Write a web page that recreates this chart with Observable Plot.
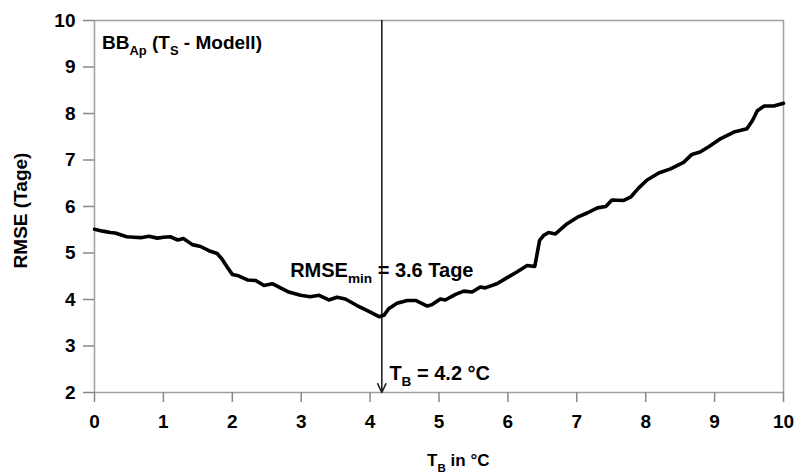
<!DOCTYPE html>
<html>
<head>
<meta charset="utf-8">
<script src="https://cdn.jsdelivr.net/npm/d3@7"></script>
<script src="https://cdn.jsdelivr.net/npm/@observablehq/plot@0.6"></script>
<style>
  html, body { margin: 0; padding: 0; background: #fff; }
  svg { font-family: "Liberation Sans", Arial, sans-serif; font-weight: bold; }
</style>
</head>
<body>
<div id="chart"></div>
<script>
// Base temperature T_B (°C)
const tb = [0.00,0.12,0.23,0.30,0.40,0.47,0.57,0.67,0.79,0.91,1.00,1.10,1.21,1.29,1.42,1.54,1.66,1.78,1.85,1.93,
  2.00,2.09,2.22,2.34,2.46,2.58,2.70,2.82,2.99,3.13,3.26,3.40,3.52,3.64,3.81,3.96,4.13,4.20,4.27,4.39,
  4.54,4.66,4.83,4.90,5.02,5.09,5.24,5.36,5.48,5.60,5.67,5.84,5.99,6.13,6.28,6.39,6.46,6.52,6.59,6.69,
  6.86,7.01,7.15,7.30,7.42,7.51,7.68,7.78,7.90,8.02,8.19,8.36,8.55,8.67,8.79,8.92,9.09,9.28,9.47,9.55,
  9.62,9.72,9.86,10.00];
// RMSE (Tage)
const rmse = [5.51,5.47,5.44,5.43,5.38,5.35,5.34,5.33,5.36,5.32,5.34,5.35,5.28,5.31,5.18,5.14,5.05,4.99,4.87,4.69,
  4.54,4.51,4.42,4.41,4.30,4.34,4.25,4.16,4.09,4.06,4.09,3.99,4.05,4.01,3.87,3.76,3.63,3.66,3.80,3.92,
  3.98,3.98,3.86,3.89,4.01,3.99,4.11,4.18,4.16,4.27,4.25,4.34,4.47,4.59,4.73,4.71,5.27,5.38,5.44,5.41,
  5.63,5.77,5.86,5.97,6.00,6.14,6.13,6.20,6.40,6.57,6.72,6.81,6.95,7.12,7.17,7.29,7.46,7.60,7.67,7.85,
  8.06,8.16,8.16,8.22];

const xTicks = [0,1,2,3,4,5,6,7,8,9,10];
const yTicks = [2,3,4,5,6,7,8,9,10];

// Optimum marker
const tbOpt = 4.17;

// Annotations
const annText = ["BB_{Ap} (T_{S} - Modell)", "RMSE_{min} = 3.6 Tage", "T_{B} = 4.2 °C"];
const annX = [0.11, 2.84, 4.28];
const annY = [9.51, 4.62, 2.41];
const annSize = [19, 20, 20];

const xTitle = "T_{B} in °C";
const yTitle = "RMSE (Tage)";

const data = tb.map((t, i) => ({t, r: rmse[i]}));
const ann = annText.map((s, i) => ({s, x: annX[i], y: annY[i], size: annSize[i]}));

const plot = Plot.plot({
  width: 803,
  height: 474,
  marginLeft: 94,
  marginRight: 20,
  marginTop: 20,
  marginBottom: 82,
  style: { fontFamily: "'Liberation Sans', Arial, sans-serif", fontWeight: "bold", fontSize: "18px", color: "#000", background: "#fff" },
  x: { domain: [0, 10] },
  y: { domain: [2, 10] },
  marks: [
    Plot.frame({ stroke: "#a0a0a0", strokeWidth: 1.5 }),
    Plot.axisX({ ticks: xTicks, tickSize: 10, tickPadding: 12, label: null, stroke: "#888", strokeWidth: 1.5, fill: "#000", fontSize: 19 }),
    Plot.axisY({ ticks: yTicks, tickSize: 11, tickPadding: 8, label: null, stroke: "#888", strokeWidth: 1.5, fill: "#000", fontSize: 19 }),
    Plot.arrow([{x: tbOpt}], { x1: "x", x2: "x", y1: () => 10, y2: () => 2, stroke: "#222", strokeWidth: 1.6, headLength: 9, headAngle: 50, inset: 0 }),
    Plot.line(data, { x: "t", y: "r", stroke: "#000", strokeWidth: 3.6, strokeLinejoin: "round", strokeLinecap: "round" }),
    Plot.text(ann, { x: "x", y: "y", text: "s", textAnchor: "start", fontSize: "size", fill: "#000" }),
    Plot.text([xTitle], { x: () => 5.28, frameAnchor: "bottom", dy: 73, fontSize: 17, fill: "#000" }),
    Plot.text([yTitle], { frameAnchor: "left", textAnchor: "middle", dx: -74, dy: 4, rotate: -90, fontSize: 19, fill: "#000" })
  ]
});

// Subscript handling: "_{...}" -> tspan subscript
d3.select(plot).selectAll("text").each(function() {
  const el = this;
  if (el.querySelector("tspan")) return;
  const s = el.textContent;
  if (!s.includes("_{")) return;
  const parts = s.split(/(_\{[^}]*\})/);
  while (el.firstChild) el.removeChild(el.firstChild);
  let shifted = false;
  parts.forEach(p => {
    if (!p) return;
    const ts = document.createElementNS("http://www.w3.org/2000/svg", "tspan");
    if (p.startsWith("_{")) {
      ts.textContent = p.slice(2, -1);
      ts.setAttribute("font-size", "0.68em");
      ts.setAttribute("dy", "6");
      shifted = true;
    } else {
      ts.textContent = p;
      if (shifted) { ts.setAttribute("dy", "-6"); shifted = false; }
    }
    el.appendChild(ts);
  });
});

document.getElementById("chart").appendChild(plot);
</script>
</body>
</html>
